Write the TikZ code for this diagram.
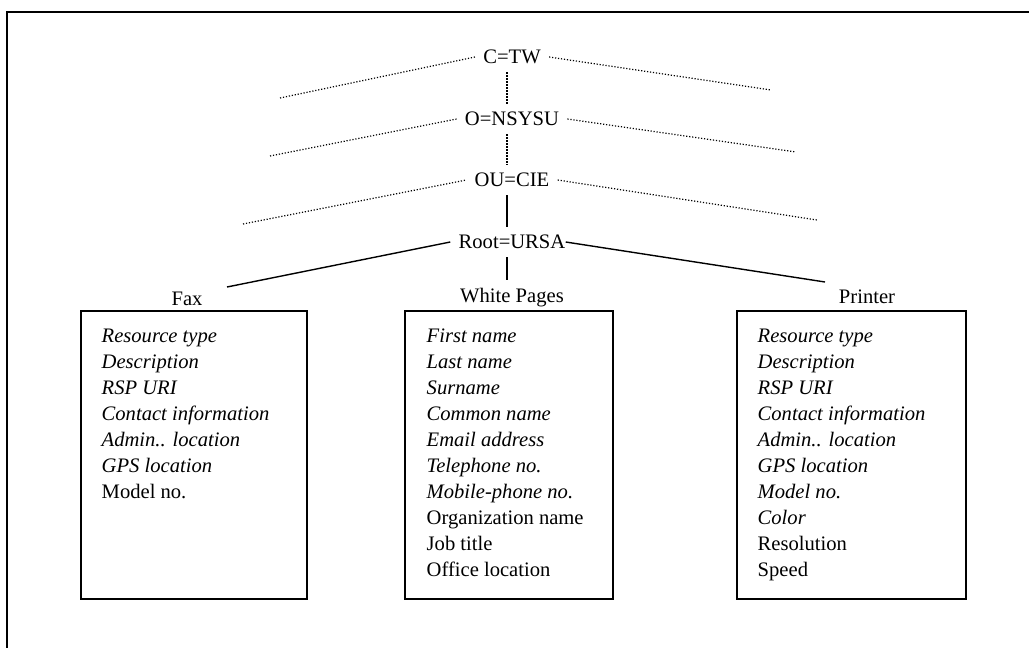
\documentclass[tikz,border=0pt]{standalone}
\usepackage{fontspec}
\setmainfont{Liberation Serif}
\usetikzlibrary{positioning,calc}

\begin{document}
\begin{tikzpicture}[x=0.5pt,y=-0.5pt,
    every node/.style={font=\fontsize{10.3}{13}\selectfont},
    level/.style={inner sep=4pt},
    dotline/.style={line width=0.6pt,dash pattern=on 0.6pt off 0.9pt},
    link/.style={line width=0.7pt},
    recbox/.style={draw,line width=0.7pt,minimum width=#1,minimum height=144pt,inner sep=0pt},
    fields/.style={anchor=north west,align=left,inner sep=0pt}]
    \useasboundingbox (0,0) rectangle (1029,648);

    % Frame
    \draw[line width=1pt] (7,648) -- (7,12) -- (1029,12);

    % Name hierarchy
    \node[level] (ctw) at (512,57) {C=TW};
    \node[level] (onsysu) at (512,119) {O=NSYSU};
    \node[level] (oucie) at (512,180) {OU=CIE};
    \node[level] (root) at (512,242) {Root=URSA};

    \coordinate (ctwL) at (280,98);   \coordinate (ctwR) at (771,90);
    \coordinate (onsysuL) at (270,156); \coordinate (onsysuR) at (796,152);
    \coordinate (oucieL) at (243,224); \coordinate (oucieR) at (817,220);
    \foreach \n in {ctw,onsysu,oucie}
        \draw[dotline] (\n L) -- (\n.west) (\n.east) -- (\n R);

    \draw[dotline] ([xshift=-2.5pt]ctw.south) -- ([xshift=-2.5pt]onsysu.north);
    \draw[dotline] ([xshift=-2.5pt]onsysu.south) -- ([xshift=-2.5pt]oucie.north);
    \draw[link] ([xshift=-2.5pt]oucie.south) -- ([xshift=-2.5pt]root.north);

    % Resource classes
    \node (faxlabel) at (187,299) {Fax};
    \node[level] (wplabel) at (512,298) {White Pages};
    \node (prnlabel) at (867,297) {Printer};

    \coordinate (faxtip) at (227,287);
    \coordinate (prntip) at (825,282);
    \draw[link] (root.west) -- (faxtip);
    \draw[link] ([xshift=-4pt]root.east) -- (prntip);
    \draw[link] ([xshift=-2.5pt]root.south) -- ([xshift=-2.5pt]wplabel.north);

    % Attribute boxes
    \node[recbox=113pt] (faxbox) at (194,455) {};
    \node[recbox=104pt] (wpbox) at (509,455) {};
    \node[recbox=114.5pt] (prnbox) at (851.5,455) {};

    \node[fields] (faxlist) at ([shift={(21,18)}]faxbox.north west) {%
        \textit{Resource type}\\ \textit{Description}\\ \textit{RSP URI}\\
        \textit{Contact information}\\ \textit{Admin.. location}\\
        \textit{GPS location}\\ Model no.};
    \node[fields] (wplist) at ([shift={(22,18)}]wpbox.north west) {%
        \textit{First name}\\ \textit{Last name}\\ \textit{Surname}\\
        \textit{Common name}\\ \textit{Email address}\\ \textit{Telephone no.}\\
        \textit{Mobile-phone no.}\\ Organization name\\ Job title\\ Office location};
    \node[fields] (prnlist) at ([shift={(21,18)}]prnbox.north west) {%
        \textit{Resource type}\\ \textit{Description}\\ \textit{RSP URI}\\
        \textit{Contact information}\\ \textit{Admin.. location}\\
        \textit{GPS location}\\ \textit{Model no.}\\ \textit{Color}\\
        Resolution\\ Speed};
\end{tikzpicture}
\end{document}
